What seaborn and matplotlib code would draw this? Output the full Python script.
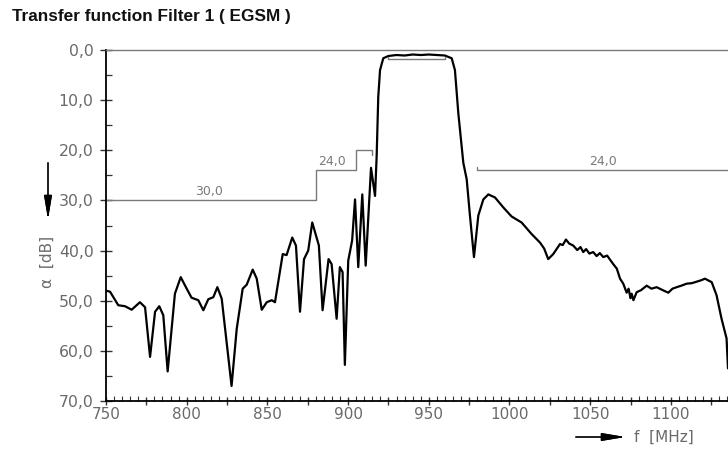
import matplotlib
matplotlib.use("Agg")
import matplotlib.pyplot as plt
import pandas as pd
import seaborn as sns
from matplotlib.ticker import MultipleLocator, FuncFormatter

# Measured transfer function of filter 1 (EGSM band)
freq_mhz = [
    750.0, 752.5, 757.6, 761.8, 765.9, 771.0, 774.2, 777.3, 780.4, 783.0,
    785.5, 788.2, 792.7, 796.3, 800.0, 803.0, 807.2, 810.3, 813.4, 816.5,
    819.0, 821.7, 827.8, 831.0, 834.7, 837.2, 840.9, 843.4, 846.5, 849.6,
    852.7, 854.7, 859.5, 861.9, 865.4, 867.7, 870.2, 872.7, 875.3, 877.8,
    881.9, 884.2, 887.9, 889.8, 892.9, 894.9, 896.6, 898.0, 900.1, 902.5,
    904.3, 906.3, 908.8, 910.9, 914.2, 916.7, 917.7, 918.7, 919.8, 921.8,
    924.9, 930.0, 935.0, 940.0, 945.0, 950.0, 955.0, 960.0, 964.2, 966.2,
    968.3, 971.4, 973.5, 975.5, 978.0, 980.7, 983.8, 986.9, 991.0, 996.2,
    1001.3, 1007.5, 1013.7, 1018.9, 1021.5, 1024.0, 1027.1, 1031.3, 1033.0, 1035.0,
    1037.0, 1039.5, 1042.0, 1044.0, 1045.7, 1047.5, 1049.5, 1051.9, 1054.0, 1056.0,
    1058.1, 1060.5, 1062.5, 1064.3, 1066.5, 1068.5, 1070.5, 1072.6, 1073.8, 1075.0,
    1075.7, 1076.8, 1078.8, 1081.5, 1085.0, 1088.0, 1091.2, 1095.0, 1098.4, 1101.0,
    1103.6, 1106.5, 1109.8, 1113.0, 1116.0, 1119.0, 1121.1, 1125.3, 1128.3, 1131.4,
    1134.5, 1135.4,
]
atten_db = [
    48.0, 48.2, 50.9, 51.1, 51.8, 50.3, 51.3, 61.2, 52.2, 51.1,
    52.9, 64.1, 48.6, 45.3, 47.6, 49.4, 49.9, 51.9, 49.7, 49.3,
    47.3, 49.6, 67.0, 55.6, 47.6, 46.8, 43.8, 45.6, 51.8, 50.3,
    49.9, 50.3, 40.7, 40.9, 37.4, 39.0, 52.2, 41.7, 40.0, 34.4,
    39.0, 51.9, 41.7, 42.7, 53.6, 43.3, 44.3, 62.8, 42.0, 38.0,
    29.8, 43.3, 28.8, 43.0, 23.5, 29.1, 21.2, 9.3, 4.0, 1.65,
    1.2, 1.0, 1.1, 0.9, 1.0, 0.9, 1.0, 1.1, 1.65, 4.0,
    12.6, 22.5, 25.8, 33.0, 41.3, 33.0, 29.8, 28.8, 29.4, 31.4,
    33.2, 34.4, 36.7, 38.4, 39.6, 41.7, 40.7, 38.7, 38.9, 37.8,
    38.6, 39.0, 39.9, 39.3, 40.3, 39.7, 40.6, 40.3, 41.1, 40.5,
    41.3, 41.0, 41.9, 42.7, 43.6, 45.6, 46.6, 48.4, 47.6, 49.5,
    48.6, 49.9, 48.3, 47.9, 47.0, 47.6, 47.3, 47.9, 48.4, 47.6,
    47.3, 47.0, 46.6, 46.5, 46.2, 45.9, 45.6, 46.3, 48.9, 53.6,
    57.5, 63.5,
]

# Tolerance mask segments
mask_low_f = [750, 880, 880, 905, 905, 915, 915]
mask_low_db = [30, 30, 24, 24, 20, 20, 21]
mask_pass_f = [925, 925, 960, 960]
mask_pass_db = [1.4, 1.8, 1.8, 1.4]
mask_high_f = [980, 980, 1135.4]
mask_high_db = [23.4, 24, 24]

mask_labels = ["30,0", "24,0", "24,0"]
mask_label_f = [814, 890, 1058]
mask_label_db = [30, 24, 24]

y_ticks = [0, 10, 20, 30, 40, 50, 60, 70]

sns.set_theme(style="white")
plt.rcParams["font.family"] = ["DejaVu Sans"]

fig = plt.figure(figsize=(7.28, 4.49), dpi=100)
ax = fig.add_axes([106 / 728, 1 - 401 / 449, 1 - 106 / 728, (401 - 50) / 449])

grey = "#7a7a7a"
curve = pd.DataFrame({"f": freq_mhz, "a": atten_db})
sns.lineplot(data=curve, x="f", y="a", color="black", lw=1.6,
             estimator=None, sort=False, ax=ax)

for fx, dy in [(mask_low_f, mask_low_db), (mask_pass_f, mask_pass_db),
               (mask_high_f, mask_high_db)]:
    seg = pd.DataFrame({"f": fx, "a": dy})
    sns.lineplot(data=seg, x="f", y="a", color=grey, lw=1.0,
                 estimator=None, sort=False, ax=ax)

for txt, fx, dy in zip(mask_labels, mask_label_f, mask_label_db):
    ax.text(fx, dy - 0.4, txt, ha="center", va="bottom", fontsize=9, color=grey)

ax.set_xlim(750, 1135.4)
ax.set_ylim(70, 0)

ax.xaxis.set_major_locator(MultipleLocator(25))
ax.xaxis.set_minor_locator(MultipleLocator(5))
ax.xaxis.set_major_formatter(
    FuncFormatter(lambda v, p: f"{v:.0f}" if round(v) % 50 == 0 else ""))
ax.set_yticks(y_ticks)
ax.yaxis.set_minor_locator(MultipleLocator(5))
ax.yaxis.set_major_formatter(FuncFormatter(lambda v, p: f"{v:.1f}".replace(".", ",")))

ax.tick_params(axis="y", which="major", direction="inout", length=8, width=1.0,
               color="#333333", labelsize=11.3, labelcolor="#6a6a6a", pad=5, left=True)
ax.tick_params(axis="y", which="minor", direction="in", length=4, width=0.9,
               color="#333333", left=True)
ax.tick_params(axis="x", which="major", direction="inout", length=6, width=1.0,
               color="#333333", labelsize=11, labelcolor="#6a6a6a", pad=1, bottom=True)
ax.tick_params(axis="x", which="minor", direction="in", length=3.5, width=0.8,
               color="#333333", bottom=True)

for side in ["left", "bottom"]:
    ax.spines[side].set_color("black")
    ax.spines[side].set_linewidth(1.3)
ax.spines["top"].set_color(grey)
ax.spines["top"].set_linewidth(1.0)
ax.spines["right"].set_visible(False)
ax.set_xlabel("")
ax.set_ylabel("")
ax.grid(False)

fig.text(12 / 728, 1 - 16 / 449, "Transfer function Filter 1 ( EGSM )",
         fontsize=12.4, fontweight="bold", family=["Liberation Sans", "DejaVu Sans"],
         ha="left", va="center", color="#111111")

# y-axis quantity with downward arrow
fig.text(47 / 728, 1 - 262 / 449, "\u03b1  [dB]", rotation=90, ha="center",
         va="center", fontsize=11, color="#6a6a6a")
fig.add_artist(plt.annotate(
    "", xy=(48 / 728, 1 - 222 / 449), xytext=(48 / 728, 1 - 160 / 449),
    xycoords="figure fraction", textcoords="figure fraction",
    arrowprops=dict(arrowstyle="-|>,head_length=1.2,head_width=0.2",
                    color="black", lw=0.9)))

# x-axis quantity with rightward arrow
fig.text(634 / 728, 1 - 437 / 449, "f  [MHz]", ha="left", va="center",
         fontsize=11, color="#6a6a6a")
fig.add_artist(plt.annotate(
    "", xy=(628 / 728, 1 - 437 / 449), xytext=(573 / 728, 1 - 437 / 449),
    xycoords="figure fraction", textcoords="figure fraction",
    arrowprops=dict(arrowstyle="-|>,head_length=1.2,head_width=0.2",
                    color="black", lw=0.9)))

fig.savefig("out.png", dpi=100)
